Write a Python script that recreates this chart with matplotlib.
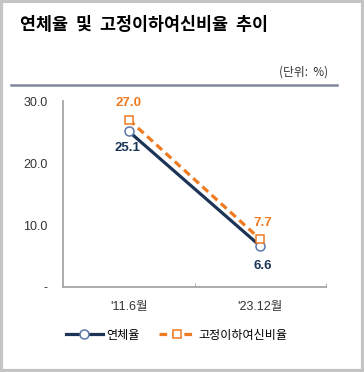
import matplotlib
matplotlib.use("Agg")
import matplotlib.pyplot as plt
from matplotlib.lines import Line2D
from matplotlib.patches import Rectangle

plt.rcParams['font.family'] = ['Liberation Sans', 'Noto Sans CJK KR']

# --- data ---
periods = ["'11.6월", "'23.12월"]
delinquency = [25.1, 6.6]
substandard = [27.0, 7.7]
yticks = [0, 10, 20, 30]
ytick_labels = ["-", "10.0", "20.0", "30.0"]

NAVY = "#1c3557"
NAVY_EDGE = "#5a78a8"
ORANGE = "#ee7a22"
GRAY = "#a6a6a6"

fig = plt.figure(figsize=(3.64, 3.72), dpi=100)

# outer frame
fig.patches.append(Rectangle((0.004, 0.004), 0.992, 0.992, transform=fig.transFigure,
                             fill=False, edgecolor="#c4c4c4", linewidth=3))

fig.text(20 / 364, 1 - 25 / 372, "연체율  및  고정이하여신비율  추이", fontsize=12.5,
         fontweight="bold", family=['Noto Sans CJK KR'], va="center", ha="left")
fig.text(328 / 364, 1 - 72 / 372, "(단위:  %)", fontsize=8.5, family=['Noto Sans CJK KR'],
         va="center", ha="right", color="#333333")
fig.add_artist(Line2D([11 / 364, 337 / 364], [1 - 85 / 372] * 2, transform=fig.transFigure,
                      color="#7d889a", linewidth=1.8))

ax = fig.add_axes([63 / 364, 1 - 287 / 372, (326 - 63) / 364, (287 - 101) / 372])
x = list(range(len(periods)))

ax.plot(x, delinquency, color=NAVY, linewidth=2.3, marker="o", markersize=6.5,
        markerfacecolor="white", markeredgecolor=NAVY_EDGE, markeredgewidth=1.1,
        label="연체율", zorder=3)
ax.plot(x, substandard, color=ORANGE, linewidth=2.3, linestyle=(0, (2.4, 1.5)), marker="s",
        markersize=6, markerfacecolor="white", markeredgecolor=ORANGE, markeredgewidth=1.1,
        label="고정이하여신비율", zorder=4)

# data labels
sub_offsets = [(0, 12), (1.5, 12)]
del_offsets = [(-1, -12), (1.5, -14)]
for i, v in enumerate(substandard):
    ax.annotate(f"{v:.1f}", (x[i], v), xytext=sub_offsets[i], textcoords="offset points",
                ha="center", va="center", color=ORANGE, fontsize=9.5, fontweight="bold")
for i, v in enumerate(delinquency):
    ax.annotate(f"{v:.1f}", (x[i], v), xytext=del_offsets[i], textcoords="offset points",
                ha="center", va="center", color=NAVY, fontsize=9.5, fontweight="bold")

ax.set_xlim(-0.5, 1.5)
ax.set_ylim(0, 30)
ax.set_yticks(yticks)
ax.set_yticklabels(ytick_labels, fontsize=9, color="#333333")
ax.tick_params(axis="y", length=0, pad=11)
ax.set_xticks(x)
ax.set_xticklabels(periods, fontsize=9, color="#333333")
ax.tick_params(axis="x", which="major", length=0, pad=10)
ax.set_xticks([0.5, 1.5], minor=True)
ax.tick_params(axis="x", which="minor", direction="in", length=3, color=GRAY)

for s in ["top", "right"]:
    ax.spines[s].set_visible(False)
for s in ["left", "bottom"]:
    ax.spines[s].set_color(GRAY)
    ax.spines[s].set_linewidth(1.3)

handles, labels = ax.get_legend_handles_labels()
fig.legend(handles, labels, loc="center", bbox_to_anchor=(177 / 364, 1 - 335 / 372), ncol=2,
           frameon=False, handlelength=3.0, columnspacing=1.6,
           handletextpad=0.3, prop={'family': ['Noto Sans CJK KR'], 'size': 8.7})

fig.savefig("out.png", dpi=100)
